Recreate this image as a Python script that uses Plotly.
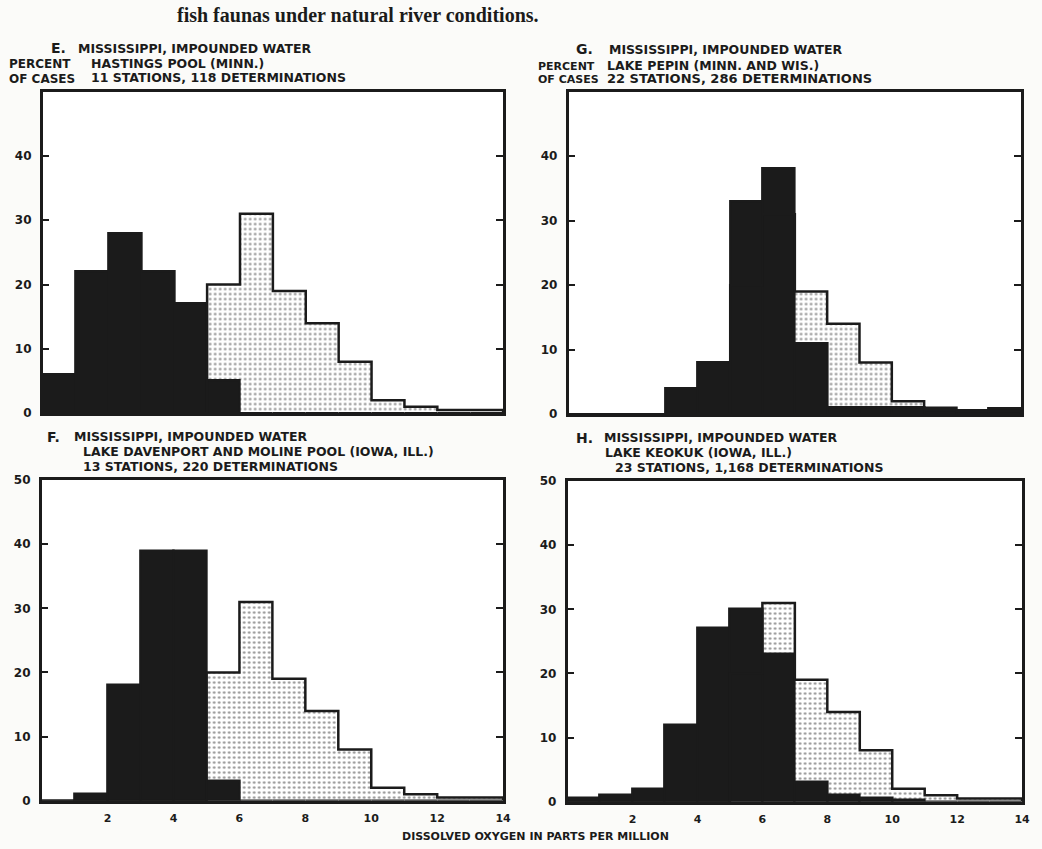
import plotly.graph_objects as go

# Page size in pixels
PAGE_W, PAGE_H = 1042, 849

# One-ppm classes of dissolved oxygen (lower edges 0..13)
class_edges = list(range(15))
class_centers = [e + 0.5 for e in range(14)]
x_tick_vals = [2, 4, 6, 8, 10, 12, 14]
y_tick_vals_top = [0, 10, 20, 30, 40]
y_tick_vals_bottom = [0, 10, 20, 30, 40, 50]

# Percent of cases per class
# dotted: composite distribution for localities with good fish fauna
good_fauna = [0, 0, 0, 0, 0, 20, 31, 19, 14, 8, 2, 1, 0.5, 0.5]
# solid black: the individual impounded-water localities
hastings_pool = [6, 22, 28, 22, 17, 5, 0, 0, 0, 0, 0, 0, 0, 0]
lake_pepin = [0, 0, 0, 4, 8, 33, 38, 11, 1, 1, 1, 0.6, 0.6, 0.8]
lake_davenport = [0, 1, 18, 39, 39, 3, 0, 0, 0, 0, 0, 0, 0, 0]
lake_keokuk = [0.5, 1, 2, 12, 27, 30, 23, 3, 1, 0.5, 0.3, 0, 0, 0]

panels = [
    # key, values, x-range px, y-range px, y ticks, show x labels
    ("E", hastings_pool, (43, 507), (86, 413), y_tick_vals_top, False),
    ("G", lake_pepin, (573, 1029), (86, 414), y_tick_vals_top, False),
    ("F", lake_davenport, (42, 507), (481, 807), y_tick_vals_bottom, True),
    ("H", lake_keokuk, (572, 1030), (482, 808), y_tick_vals_bottom, True),
]

INK = "#1b1b1b"
DOT = "#2a2a2a"
PAPER = "#fbfbf9"
FONT = "DejaVu Sans"
EDGE = 2.5


def px_x(x):
    return x / PAGE_W


def px_y(y):
    return 1 - y / PAGE_H


fig = go.Figure()
layout_axes = {}

for i, (key, values, (x0, x1), (y0, y1), yticks, show_x) in enumerate(panels):
    n = "" if i == 0 else str(i + 1)
    xa, ya = "x" + n, "y" + n

    # dotted composite distribution
    fig.add_trace(go.Bar(
        x=class_centers, y=good_fauna, width=1, xaxis=xa, yaxis=ya,
        marker=dict(color="white", line=dict(width=0),
                    pattern=dict(shape=".", fgcolor=DOT, bgcolor="white",
                                 size=5, solidity=0.22)),
        showlegend=False, hoverinfo="skip",
    ))
    # solid locality distribution
    fig.add_trace(go.Bar(
        x=class_centers, y=values, width=1, xaxis=xa, yaxis=ya,
        marker=dict(color=INK, line=dict(width=EDGE, color=INK)),
        showlegend=False, hoverinfo="skip",
    ))
    # stepped outline of the composite distribution
    step_x = [class_edges[0]] + class_edges[:-1] + [class_edges[-1], class_edges[-1]]
    step_y = [0] + good_fauna + [good_fauna[-1], 0]
    fig.add_trace(go.Scatter(
        x=step_x, y=step_y, xaxis=xa, yaxis=ya, mode="lines",
        line=dict(color=INK, width=EDGE, shape="hv"),
        showlegend=False, hoverinfo="skip",
    ))

    layout_axes["xaxis" + n] = dict(
        domain=[px_x(x0), px_x(x1)], range=[0, 14], anchor=ya,
        showgrid=False, zeroline=False, showline=True, mirror=True,
        linecolor=INK, linewidth=2.5, ticks="",
        tickvals=x_tick_vals, showticklabels=show_x, ticklabelstandoff=5,
        tickfont=dict(family=FONT, size=11, color=INK, weight="bold"),
    )
    layout_axes["yaxis" + n] = dict(
        domain=[px_y(y1), px_y(y0)], range=[0, 50], anchor=xa,
        showgrid=False, zeroline=False, showline=True, mirror="allticks",
        linecolor=INK, linewidth=2.5, ticks="inside", ticklen=7,
        tickwidth=1.5, tickcolor=INK, tickvals=yticks,
        ticklabelstandoff=6,
        tickfont=dict(family=FONT, size=12, color=INK, weight="bold"),
    )

fig.update_layout(**layout_axes)

annotations = []


def label(text, x, y, size=12.5, anchor="left", family=FONT):
    annotations.append(dict(
        text=text, x=px_x(x), y=px_y(y), xref="paper", yref="paper",
        xanchor=anchor, yanchor="middle", showarrow=False,
        font=dict(family=family, size=size, color=INK, weight="bold"),
    ))


# Panel headings
label("E.", 49, 42, 14)
label("MISSISSIPPI, IMPOUNDED WATER", 77, 42)
label("PERCENT", 7, 58, 12)
label("HASTINGS POOL (MINN.)", 90, 57)
label("OF CASES", 7, 73, 12)
label("11 STATIONS, 118 DETERMINATIONS", 90, 72)

label("G.", 578, 43, 14)
label("MISSISSIPPI, IMPOUNDED WATER", 612, 43)
label("PERCENT", 540, 60, 11)
label("LAKE PEPIN (MINN. AND WIS.)", 610, 59)
label("OF CASES", 540, 74, 11)
label("22 STATIONS, 286 DETERMINATIONS", 610, 73, 13)

label("F.", 45, 437, 14)
label("MISSISSIPPI, IMPOUNDED WATER", 73, 437)
label("LAKE DAVENPORT AND MOLINE POOL (IOWA, ILL.)", 82, 452)
label("13 STATIONS, 220 DETERMINATIONS", 82, 467)

label("H.", 578, 438, 14)
label("MISSISSIPPI, IMPOUNDED WATER", 607, 438)
label("LAKE KEOKUK (IOWA, ILL.)", 608, 453)
label("23 STATIONS, 1,168 DETERMINATIONS", 618, 468)

label("DISSOLVED OXYGEN IN PARTS PER MILLION", 540, 843, 11, anchor="center")

# Running text of the page above the figure
label("fish faunas under natural river conditions.", 545, 8, 20,
      anchor="right", family="Liberation Serif")

fig.update_layout(
    width=PAGE_W, height=PAGE_H,
    margin=dict(l=0, r=0, t=0, b=0),
    paper_bgcolor=PAPER, plot_bgcolor="white",
    barmode="overlay", bargap=0,
    annotations=annotations,
    showlegend=False,
)

fig.write_html("out.html")

# Let the figure fill the page without the browser's default body margin
with open("out.html", encoding="utf-8") as fh:
    page = fh.read()
page = page.replace(
    "<head>",
    "<head><style>html,body{margin:0;padding:0;overflow:hidden;}</style>",
    1,
)
with open("out.html", "w", encoding="utf-8") as fh:
    fh.write(page)
